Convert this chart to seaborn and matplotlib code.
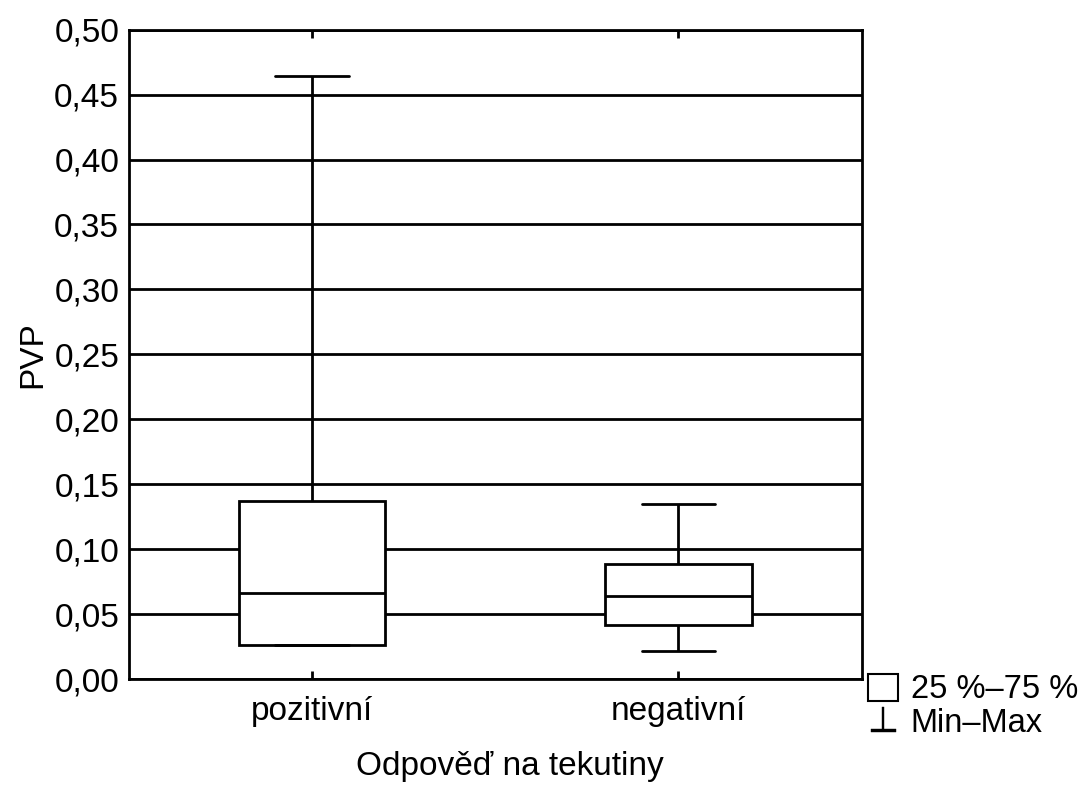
import pandas as pd
import matplotlib
matplotlib.use("Agg")
import matplotlib.pyplot as plt
import seaborn as sns
from matplotlib.patches import Patch
from matplotlib.lines import Line2D

# five-number summaries (min, q1, median, q3, max)
groups = ["pozitivní", "negativní"]
pozitivni = [0.026, 0.026, 0.066, 0.137, 0.464]
negativni = [0.022, 0.042, 0.064, 0.089, 0.135]
y_ticks = [0.00, 0.05, 0.10, 0.15, 0.20, 0.25, 0.30, 0.35, 0.40, 0.45, 0.50]
y_tick_labels = ["0,00", "0,05", "0,10", "0,15", "0,20", "0,25", "0,30", "0,35", "0,40", "0,45", "0,50"]
legend_labels = ["25 %–75 %", "Min–Max"]

# with 5 values the linear-interpolated quartiles are exactly the 2nd and 4th
df = pd.DataFrame({
    "odpoved": [groups[0]] * len(pozitivni) + [groups[1]] * len(negativni),
    "pvp": pozitivni + negativni,
})

sns.set_theme(style="white")
plt.rcParams["font.family"] = ["Liberation Sans", "DejaVu Sans"]
plt.rcParams.update({"text.color": "black", "axes.labelcolor": "black",
                     "xtick.color": "black", "ytick.color": "black"})

fig = plt.figure(figsize=(10.92, 8), dpi=100)
ax = fig.add_axes([0.118, 0.151, 0.671, 0.812])

lw = 2.0
sns.boxplot(
    data=df, x="odpoved", y="pvp", order=groups,
    whis=(0, 100), width=0.4, color="white", linecolor="black",
    linewidth=lw, showfliers=False, ax=ax,
    boxprops={"zorder": 3}, whiskerprops={"zorder": 3},
    capprops={"zorder": 3}, medianprops={"zorder": 4},
)

ax.set_xlim(-0.5, 1.5)
ax.set_ylim(0, 0.5)
ax.set_yticks(y_ticks)
ax.set_yticklabels(y_tick_labels)
ax.yaxis.grid(True, color="black", linewidth=lw)
ax.set_axisbelow(True)

for s in ax.spines.values():
    s.set_color("black")
    s.set_linewidth(lw)
    s.set_visible(True)

ax.tick_params(axis="y", length=0, pad=7, labelsize=24)
ax.tick_params(axis="x", direction="in", length=6, width=lw, color="black",
               top=True, bottom=True, pad=12, labelsize=24)

ax.set_xlabel("Odpověď na tekutiny", fontsize=24)
ax.set_ylabel("PVP", fontsize=24)
ax.xaxis.set_label_coords(0.52, -0.11)
ax.yaxis.set_label_coords(-0.11, 0.5)

handles = [
    Patch(facecolor="white", edgecolor="black", linewidth=1.5),
    Line2D([], [], color="black", linestyle="none", marker="$\\bot$",
           markersize=18, markeredgewidth=0.3),
]
fig.legend(handles, legend_labels, loc="upper left", bbox_to_anchor=(0.795, 0.158),
           frameon=False, fontsize=23.5, handlelength=0.9, handleheight=0.9,
           handletextpad=0.4, labelspacing=0.05, borderpad=0, borderaxespad=0)

fig.savefig("out.png", dpi=100)
